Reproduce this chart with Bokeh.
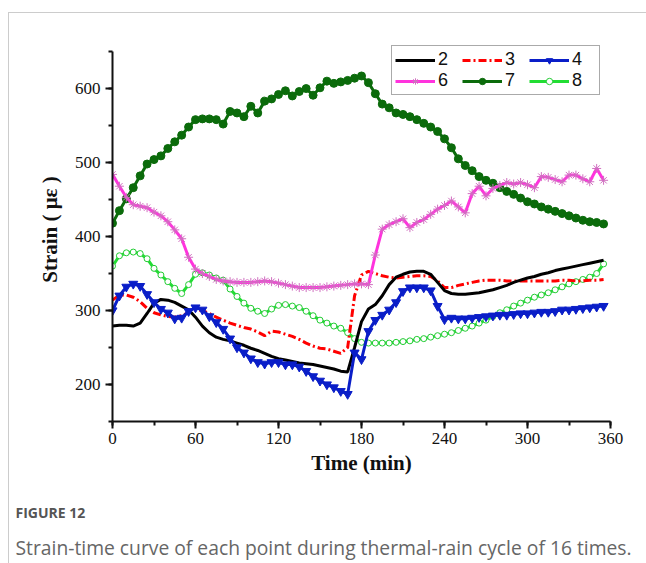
from bokeh.plotting import figure
from bokeh.models import (Legend, LegendItem, Title,
                          SingleIntervalTicker, Range1d)
from bokeh.embed import file_html
from bokeh.resources import INLINE

# time (min)
time_min = list(range(0, 360, 5))

# strain (micro-strain) of each measuring point
s2 = [279, 280, 280, 279, 283, 296, 310, 315, 314, 311, 306, 301,
      291, 279, 270, 264, 261, 259, 256, 253, 249, 246, 242, 238,
      235, 233, 231, 229, 228, 227, 225, 223, 221, 218, 217, 250,
      285, 302, 308, 320, 335, 345, 349, 352, 353, 353, 349, 338,
      327, 323, 322, 322, 323, 324, 326, 328, 331, 334, 338, 341,
      344, 346, 349, 351, 354, 356, 358, 360, 362, 364, 366, 368]
s3 = [314, 321, 321, 318, 312, 303, 297, 294, 292, 291, 293, 297,
      301, 300, 296, 291, 287, 283, 280, 277, 275, 271, 266, 272,
      271, 268, 265, 261, 256, 252, 249, 248, 245, 242, 250, 320,
      348, 353, 350, 347, 345, 344, 345, 346, 347, 347, 346, 340,
      331, 331, 334, 336, 338, 340, 341, 341, 341, 340, 340, 340,
      340, 340, 340, 340, 340, 341, 341, 340, 340, 341, 341, 342]
s4 = [300, 320, 332, 336, 333, 322, 311, 302, 297, 289, 290, 299,
      304, 301, 292, 284, 275, 262, 250, 243, 235, 230, 228, 230,
      230, 227, 227, 224, 218, 211, 205, 200, 196, 191, 187, 243,
      234, 272, 287, 294, 301, 311, 326, 331, 331, 331, 327, 306,
      288, 290, 289, 289, 290, 291, 292, 293, 294, 294, 295, 296,
      296, 297, 298, 298, 299, 301, 301, 302, 303, 304, 305, 306]
s6 = [484, 468, 453, 443, 441, 439, 433, 428, 420, 409, 397, 372,
      356, 350, 346, 342, 340, 339, 338, 338, 338, 339, 340, 339,
      337, 335, 333, 331, 331, 331, 331, 332, 333, 334, 335, 336,
      336, 335, 375, 410, 416, 420, 424, 412, 419, 423, 430, 437,
      442, 448, 440, 432, 458, 468, 455, 465, 469, 473, 471, 473,
      470, 466, 481, 480, 477, 474, 483, 483, 478, 474, 492, 476]
s7 = [418, 435, 451, 466, 482, 498, 504, 509, 519, 528, 537, 548,
      558, 559, 559, 558, 552, 569, 567, 562, 576, 567, 583, 586,
      592, 597, 590, 596, 600, 591, 601, 610, 607, 609, 611, 614,
      617, 608, 593, 579, 574, 567, 565, 562, 558, 553, 548, 542,
      532, 520, 505, 496, 489, 481, 476, 472, 466, 461, 457, 452,
      447, 444, 440, 437, 434, 431, 428, 425, 422, 420, 419, 417]
s8 = [360, 374, 378, 379, 377, 370, 357, 348, 339, 330, 323, 335,
      349, 351, 348, 344, 341, 329, 319, 310, 303, 299, 296, 302,
      307, 308, 306, 304, 299, 293, 287, 283, 279, 276, 270, 262,
      257, 256, 256, 256, 256, 257, 258, 259, 261, 262, 264, 266,
      268, 270, 273, 276, 279, 283, 287, 292, 297, 301, 306, 310,
      314, 318, 321, 324, 328, 332, 336, 339, 342, 345, 350, 363]

series_names = ["2", "3", "4", "6", "7", "8"]

# axis extent and ticks
x_lo, x_hi = 0, 360
y_lo, y_hi = 150, 650
y_view_hi = 669

p = figure(width=638, height=551, output_backend="svg", toolbar_location=None,
           x_range=Range1d(x_lo, x_hi), y_range=Range1d(y_lo, y_view_hi),
           min_border_left=103, min_border_right=37,
           min_border_top=24, min_border_bottom=143,
           margin=(12, 0, 0, 8))
p.styles = {"border-top": "1px solid #cccccc", "border-left": "1px solid #cccccc"}
p.outline_line_color = None
p.background_fill_color = "white"
p.border_fill_color = "white"
p.grid.visible = False

p.xaxis.ticker = SingleIntervalTicker(interval=60, num_minor_ticks=2)
p.yaxis.ticker = SingleIntervalTicker(interval=100, num_minor_ticks=2)
p.yaxis.bounds = (y_lo, y_hi)
for ax in (p.xaxis[0], p.yaxis[0]):
    ax.axis_line_width = 2
    ax.axis_line_color = "#111111"
    ax.major_tick_line_width = 2
    ax.minor_tick_line_width = 2
    ax.major_tick_line_color = "#111111"
    ax.minor_tick_line_color = "#111111"
    ax.major_tick_out = 7
    ax.major_tick_in = 0
    ax.minor_tick_out = 4
    ax.minor_tick_in = 0
    ax.major_label_text_font = "Liberation Serif"
    ax.major_label_text_font_size = "17px"
    ax.major_label_text_color = "#111111"
    ax.axis_label_text_font = "Liberation Serif"
    ax.axis_label_text_font_style = "bold"
    ax.axis_label_text_font_size = "21px"
    ax.axis_label_text_color = "#111111"
p.xaxis.axis_label = "Time (min)"
p.yaxis.axis_label = "Strain ( με )"
p.xaxis.major_label_standoff = 4
p.yaxis.major_label_standoff = 5
p.xaxis.axis_label_standoff = 4
p.yaxis.axis_label_standoff = 10

lw = 3
r8l = p.line(time_min, s8, line_color="#22dd33", line_width=lw)
r8m = p.scatter(time_min, s8, marker="circle", size=6, fill_color="white",
                line_color="#22cc33", line_width=1)
r7l = p.line(time_min, s7, line_color="#0b6b0b", line_width=lw)
r7m = p.scatter(time_min, s7, marker="circle", size=8, fill_color="#0b6b0b",
                line_color="#0b6b0b")
r3l = p.line(time_min, s3, line_color="#ff0000", line_width=lw,
             line_dash="8 3 2 3")
r2l = p.line(time_min, s2, line_color="#000000", line_width=lw)
r4l = p.line(time_min, s4, line_color="#0a1ec8", line_width=lw)
r4m = p.scatter(time_min, s4, marker="inverted_triangle", size=9,
                fill_color="#0a1ec8", line_color="#0a1ec8")
r6l = p.line(time_min, s6, line_color="#ff33dd", line_width=lw)
r6m = p.scatter(time_min, s6, marker="asterisk", size=9,
                line_color="#d070c0", line_width=1)

legend = Legend(items=[
    LegendItem(label=series_names[0], renderers=[r2l]),
    LegendItem(label=series_names[1], renderers=[r3l]),
    LegendItem(label=series_names[2], renderers=[r4l, r4m]),
    LegendItem(label=series_names[3], renderers=[r6l, r6m]),
    LegendItem(label=series_names[4], renderers=[r7l, r7m]),
    LegendItem(label=series_names[5], renderers=[r8l, r8m]),
], orientation="horizontal", ncols=3, location=(279, 326))
legend.label_text_font = "Liberation Sans"
legend.label_text_font_size = "18px"
legend.label_text_color = "#111111"
legend.glyph_width = 40
legend.glyph_height = 16
legend.label_height = 16
legend.label_width = 24
legend.label_standoff = 3
legend.spacing = 0
legend.padding = 3
legend.margin = 0
legend.border_line_color = "#555555"
legend.border_line_width = 1.5
legend.background_fill_alpha = 1
p.add_layout(legend, "center")

cap1 = Title(text="FIGURE 12", align="left", offset=-97, standoff=47,
             text_font="Open Sans", text_font_size="14px",
             text_font_style="bold", text_color="#555555")
cap2 = Title(text="Strain-time curve of each point during thermal-rain cycle of 16 times.",
             align="left", offset=-97, standoff=-30,
             text_font="Open Sans", text_font_size="19.3px",
             text_font_style="normal", text_color="#666666")
p.add_layout(cap1, "below")
p.add_layout(cap2, "below")

open("out.html", "w").write(file_html(p, INLINE))
